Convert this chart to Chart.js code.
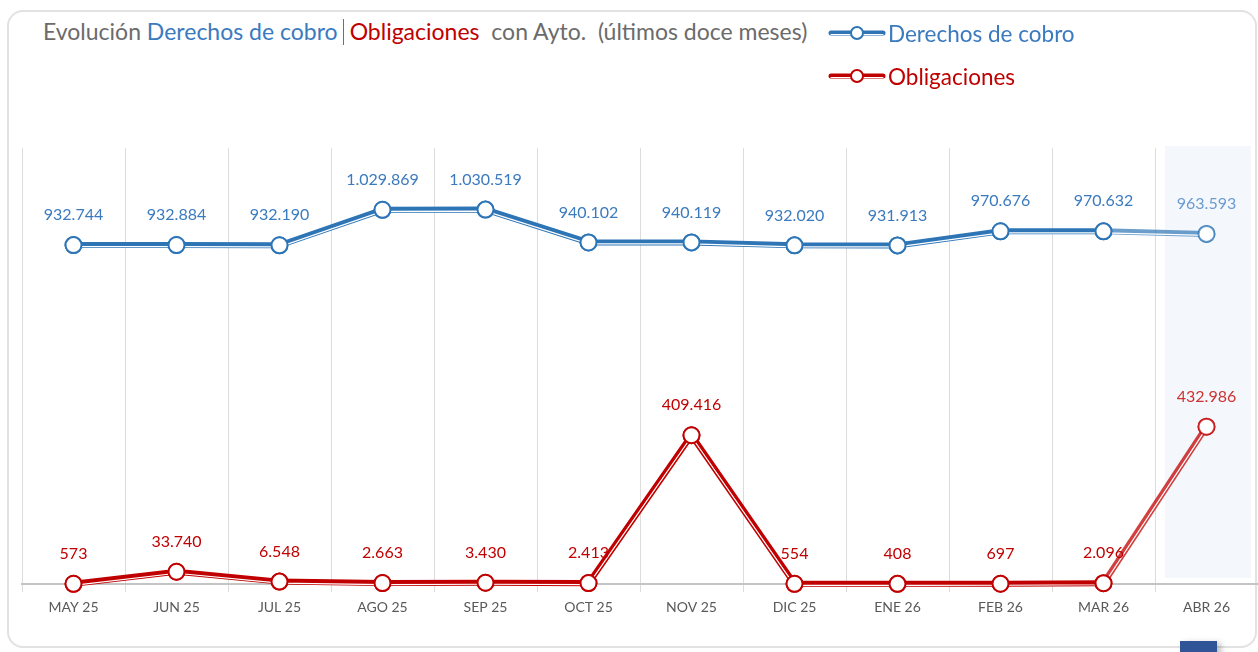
<!DOCTYPE html>
<html lang="es">
<head>
<meta charset="utf-8">
<title>Evolución Derechos de cobro | Obligaciones</title>
<script src="https://cdn.jsdelivr.net/npm/chart.js@4.4.1/dist/chart.umd.min.js"></script>
<style>
    html, body { margin: 0; padding: 0; background: #fff; }
    body { width: 1258px; height: 652px; position: relative; overflow: hidden; font-family: 'Lato', 'Open Sans', Arial, sans-serif; }
    .card {
        position: absolute; left: 7px; top: 10px; width: 1250px; height: 638px;
        border: 2px solid #e2e2e2; border-radius: 16px; box-sizing: border-box; background: #fff;
    }
    .chart-wrap { position: absolute; left: 0; top: 0; width: 1268px; height: 653px; }
    .title {
        position: absolute; left: 43px; top: 17px; font-size: 23px; color: #6b6b6b; white-space: pre;
    }
    .title .blue { color: #3a7abf; }
    .title .red { color: #c00000; }
    .title .sep { display: inline-block; width: 1px; height: 26px; background: #3a7abf; vertical-align: -5px; margin: 0 6px 0 5px; }
    .legend { position: absolute; left: 828px; top: 19px; }
    .legend-item { display: flex; align-items: center; height: 28px; margin-bottom: 15px; font-size: 22.5px; }
    .legend-item canvas { margin-right: 2px; }
    .corner-btn { position: absolute; left: 1180px; top: 641px; width: 37px; height: 20px; background: #2f5597; box-shadow: 4px 2px 6px rgba(0,0,0,0.25); }
</style>
</head>
<body>
<div class="card"></div>
<div class="title">Evolución <span class="blue">Derechos de cobro</span><span class="sep"></span><span class="red">Obligaciones</span>  con Ayto.  (últimos doce meses)</div>
<div class="legend" id="legend"></div>
<div class="chart-wrap"><canvas id="evolucionChart"></canvas></div>
<div class="corner-btn"></div>
<script>
(function () {
    'use strict';

    const months = ['MAY 25', 'JUN 25', 'JUL 25', 'AGO 25', 'SEP 25', 'OCT 25', 'NOV 25', 'DIC 25', 'ENE 26', 'FEB 26', 'MAR 26', 'ABR 26'];
    const derechos = [932744, 932884, 932190, 1029869, 1030519, 940102, 940119, 932020, 931913, 970676, 970632, 963593];
    const obligaciones = [573, 33740, 6548, 2663, 3430, 2413, 409416, 554, 408, 697, 2096, 432986];
    const yMax = 1200000;

    const palette = {
        blue: '#2e75b6',
        blueSoft: 'rgba(46, 117, 182, 0.7)',
        blueLabel: '#3a7abf',
        blueLabelSoft: '#6a9bd0',
        red: '#c00000',
        redSoft: 'rgba(192, 0, 0, 0.75)',
        redLabel: '#c00000',
        redLabelSoft: '#cc3333',
        grid: '#dcdcdc',
        axis: '#c4c4c4',
        tick: '#595959',
        highlight: '#f4f8fc'
    };

    const lastIndex = months.length - 1;

    function formatNumber(v) {
        return String(v).replace(/\B(?=(\d{3})+(?!\d))/g, '.');
    }

    function legendIcon(color) {
        const c = document.createElement('canvas');
        c.width = 58; c.height = 16;
        const ctx = c.getContext('2d');
        ctx.strokeStyle = color;
        ctx.lineWidth = 5;
        ctx.lineCap = 'round';
        ctx.beginPath(); ctx.moveTo(3, 8); ctx.lineTo(55, 8); ctx.stroke();
        ctx.strokeStyle = '#fff';
        ctx.lineWidth = 1;
        ctx.beginPath(); ctx.moveTo(3, 9.5); ctx.lineTo(55, 9.5); ctx.stroke();
        ctx.beginPath(); ctx.arc(29, 8, 6, 0, Math.PI * 2);
        ctx.fillStyle = '#fff'; ctx.fill();
        ctx.lineWidth = 2; ctx.strokeStyle = color; ctx.stroke();
        return c;
    }

    function buildLegend() {
        const box = document.getElementById('legend');
        [['Derechos de cobro', palette.blue, palette.blueLabel], ['Obligaciones', palette.red, palette.redLabel]].forEach(([text, color, textColor]) => {
            const item = document.createElement('div');
            item.className = 'legend-item';
            item.appendChild(legendIcon(color));
            const span = document.createElement('span');
            span.textContent = text;
            span.style.color = textColor;
            item.appendChild(span);
            box.appendChild(item);
        });
    }

    // light band behind the current month
    const highlightPlugin = {
        id: 'highlightColumn',
        beforeDraw(chart) {
            const x = chart.scales.x;
            const area = chart.chartArea;
            const cx = x.getPixelForValue(lastIndex);
            const half = (cx - x.getPixelForValue(lastIndex - 1)) / 2;
            const ctx = chart.ctx;
            ctx.save();
            ctx.fillStyle = palette.highlight;
            ctx.fillRect(cx - half + 10, area.top - 2, half * 2 - 17, area.bottom - area.top - 4);
            ctx.restore();
        }
    };

    // thin white inner stroke, points on top, then the value labels
    const decorPlugin = {
        id: 'lineDecor',
        afterDatasetsDraw(chart) {
            const ctx = chart.ctx;
            chart.data.datasets.forEach((ds, i) => {
                const meta = chart.getDatasetMeta(i);
                ctx.save();
                ctx.strokeStyle = '#ffffff';
                ctx.lineWidth = 1.2;
                ctx.beginPath();
                meta.data.forEach((pt, j) => {
                    if (j === 0) ctx.moveTo(pt.x, pt.y + 1.5);
                    else ctx.lineTo(pt.x, pt.y + 1.5);
                });
                ctx.stroke();
                ctx.restore();
                meta.data.forEach((pt) => pt.draw(ctx));

                ctx.save();
                ctx.font = '16px Lato, "Open Sans", Arial, sans-serif';
                ctx.textAlign = 'center';
                ctx.textBaseline = 'middle';
                meta.data.forEach((pt, j) => {
                    ctx.fillStyle = j === lastIndex ? ds.labelSoft : ds.labelColor;
                    ctx.fillText(formatNumber(ds.data[j]), pt.x, pt.y - 30);
                });
                ctx.restore();
            });
        }
    };

    function lineDataset(label, data, color, soft, labelColor, labelSoft) {
        return {
            label,
            data,
            borderColor: color,
            borderWidth: 6,
            tension: 0,
            clip: false,
            pointRadius: 8,
            pointHoverRadius: 8,
            pointBorderWidth: 2,
            pointBackgroundColor: '#ffffff',
            pointBorderColor: data.map((v, j) => (j === lastIndex ? soft : color)),
            segment: {
                borderColor: (ctx) => (ctx.p1DataIndex === lastIndex ? soft : color)
            },
            labelColor,
            labelSoft
        };
    }

    function init() {
        buildLegend();
        new Chart(document.getElementById('evolucionChart'), {
            type: 'line',
            data: {
                labels: months,
                datasets: [
                    lineDataset('Derechos de cobro', derechos, palette.blue, palette.blueSoft, palette.blueLabel, palette.blueLabelSoft),
                    lineDataset('Obligaciones', obligaciones, palette.red, palette.redSoft, palette.redLabel, palette.redLabelSoft)
                ]
            },
            options: {
                responsive: true,
                maintainAspectRatio: false,
                animation: false,
                layout: { padding: { left: 22, right: 1, top: 148, bottom: 0 } },
                plugins: {
                    legend: { display: false },
                    tooltip: { enabled: false }
                },
                scales: {
                    x: {
                        offset: true,
                        grid: { offset: true, color: palette.grid, lineWidth: 1, tickLength: 8, drawTicks: true },
                        border: { color: palette.axis, width: 2 },
                        ticks: {
                            color: palette.tick,
                            padding: 7,
                            maxRotation: 0,
                            autoSkip: false,
                            font: { family: "Lato, 'Open Sans', Arial, sans-serif", size: 14 }
                        },
                        afterFit(scale) { scale.height = 69; }
                    },
                    y: {
                        display: false,
                        min: 0,
                        max: yMax
                    }
                }
            },
            plugins: [highlightPlugin, decorPlugin]
        });
    }

    document.addEventListener('DOMContentLoaded', init);
})();
</script>
</body>
</html>
